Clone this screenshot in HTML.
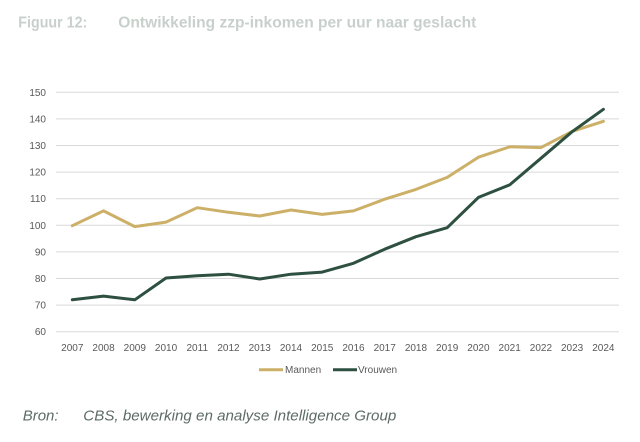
<!DOCTYPE html>
<html>
<head>
<meta charset="utf-8">
<style>
  html,body{margin:0;padding:0;background:#fff;}
  body{width:640px;height:442px;overflow:hidden;}
  svg{display:block;}
</style>
</head>
<body>
<svg width="640" height="442" viewBox="0 0 640 442" xmlns="http://www.w3.org/2000/svg">
  <rect width="640" height="442" fill="#ffffff"/>
  <!-- Title -->
  <text x="18.3" y="27.5" font-family="Liberation Sans, sans-serif" font-weight="bold" font-size="15.5" fill="#c8d0cc" textLength="69" lengthAdjust="spacingAndGlyphs">Figuur 12:</text>
  <text x="118.3" y="27.5" font-family="Liberation Sans, sans-serif" font-weight="bold" font-size="15.5" fill="#c8d0cc" textLength="358" lengthAdjust="spacingAndGlyphs">Ontwikkeling zzp-inkomen per uur naar geslacht</text>

  <!-- Gridlines -->
  <g stroke="#d9d9d9" stroke-width="1">
    <line x1="56" x2="619" y1="331.7" y2="331.7"/>
    <line x1="56" x2="619" y1="305.1" y2="305.1"/>
    <line x1="56" x2="619" y1="278.5" y2="278.5"/>
    <line x1="56" x2="619" y1="251.9" y2="251.9"/>
    <line x1="56" x2="619" y1="225.3" y2="225.3"/>
    <line x1="56" x2="619" y1="198.7" y2="198.7"/>
    <line x1="56" x2="619" y1="172.1" y2="172.1"/>
    <line x1="56" x2="619" y1="145.5" y2="145.5"/>
    <line x1="56" x2="619" y1="118.9" y2="118.9"/>
    <line x1="56" x2="619" y1="92.3" y2="92.3"/>
  </g>

  <!-- Y labels -->
  <g font-family="Liberation Sans, sans-serif" font-size="10" fill="#595959" text-anchor="end">
    <text x="46" y="335.2">60</text>
    <text x="46" y="308.6">70</text>
    <text x="46" y="282">80</text>
    <text x="46" y="255.4">90</text>
    <text x="46" y="228.8">100</text>
    <text x="46" y="202.2">110</text>
    <text x="46" y="175.6">120</text>
    <text x="46" y="149">130</text>
    <text x="46" y="122.4">140</text>
    <text x="46" y="95.8">150</text>
  </g>

  <!-- X labels -->
  <g font-family="Liberation Sans, sans-serif" font-size="10" fill="#595959" text-anchor="middle">
    <text x="72.3" y="350.8">2007</text>
    <text x="103.54" y="350.8">2008</text>
    <text x="134.78" y="350.8">2009</text>
    <text x="166.02" y="350.8">2010</text>
    <text x="197.26" y="350.8">2011</text>
    <text x="228.5" y="350.8">2012</text>
    <text x="259.74" y="350.8">2013</text>
    <text x="290.98" y="350.8">2014</text>
    <text x="322.22" y="350.8">2015</text>
    <text x="353.46" y="350.8">2016</text>
    <text x="384.7" y="350.8">2017</text>
    <text x="415.94" y="350.8">2018</text>
    <text x="447.18" y="350.8">2019</text>
    <text x="478.42" y="350.8">2020</text>
    <text x="509.66" y="350.8">2021</text>
    <text x="540.9" y="350.8">2022</text>
    <text x="572.14" y="350.8">2023</text>
    <text x="603.38" y="350.8">2024</text>
  </g>

  <!-- Mannen -->
  <polyline fill="none" stroke="#cdb068" stroke-width="3" stroke-linejoin="round" stroke-linecap="round"
    points="72.3,225.7 103.54,210.9 134.78,226.6 166.02,222.1 197.26,207.7 228.5,212.3 259.74,216.0 290.98,210.0 322.22,214.4 353.46,210.9 384.7,199.2 415.94,189.4 447.18,177.4 478.42,157.2 509.66,146.8 540.9,147.6 572.14,131.4 603.38,121.3"/>

  <!-- Vrouwen -->
  <polyline fill="none" stroke="#2e5040" stroke-width="3" stroke-linejoin="round" stroke-linecap="round"
    points="72.3,299.8 103.54,296.1 134.78,299.8 166.02,278.0 197.26,275.7 228.5,274.2 259.74,279.0 290.98,274.2 322.22,272.1 353.46,263.3 384.7,249.2 415.94,236.7 447.18,227.7 478.42,197.4 509.66,184.9 540.9,158.3 572.14,131.7 603.38,109.3"/>

  <!-- Legend -->
  <line x1="259" x2="283" y1="369.7" y2="369.7" stroke="#cdb068" stroke-width="3"/>
  <text x="285" y="373.2" font-family="Liberation Sans, sans-serif" font-size="10" fill="#595959">Mannen</text>
  <line x1="333" x2="357" y1="369.7" y2="369.7" stroke="#2e5040" stroke-width="3"/>
  <text x="358" y="373.2" font-family="Liberation Sans, sans-serif" font-size="10" fill="#595959">Vrouwen</text>

  <!-- Footer -->
  <text x="22.7" y="420.5" font-family="Liberation Sans, sans-serif" font-style="italic" font-size="15" fill="#5d6b66">Bron:</text>
  <text x="83.3" y="420.5" font-family="Liberation Sans, sans-serif" font-style="italic" font-size="15" fill="#5d6b66" textLength="313" lengthAdjust="spacingAndGlyphs">CBS, bewerking en analyse Intelligence Group</text>
</svg>
</body>
</html>
